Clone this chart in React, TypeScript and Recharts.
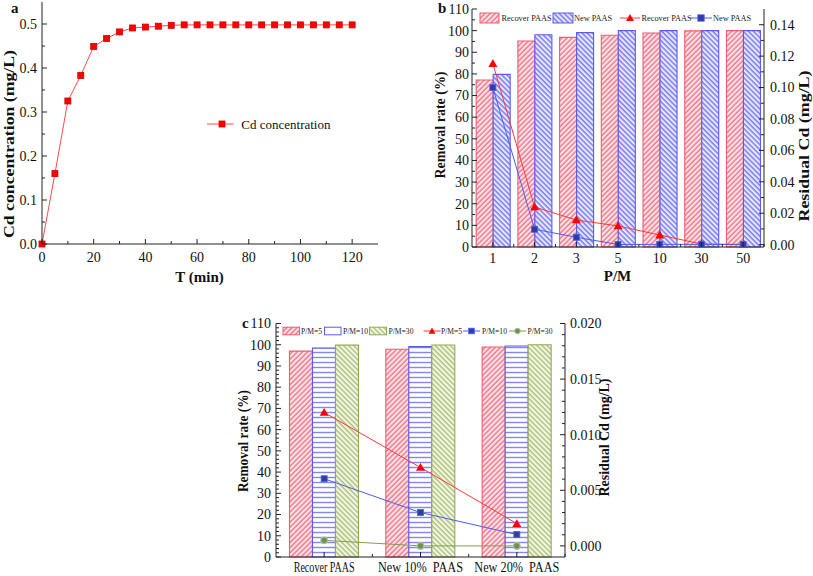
import React from "react";
import { ComposedChart, LineChart, Line, Bar, XAxis, YAxis, ReferenceArea, Legend } from "recharts";

const SERIF = "\"Liberation Serif\", \"Times New Roman\", \"DejaVu Serif\", serif";
const AXIS = "#222";
const TXT = { fontFamily: SERIF };

// (a) Cd concentration over time
const timeMin = [0, 5, 10, 15, 20, 25, 30, 35, 40, 45, 50, 55, 60, 65, 70, 75, 80, 85, 90, 95, 100, 105, 110, 115, 120];
const cdConc = [0, 0.16, 0.325, 0.383, 0.449, 0.467, 0.482, 0.491, 0.493, 0.495, 0.497, 0.498, 0.498, 0.498, 0.498, 0.498, 0.498, 0.498, 0.498, 0.498, 0.498, 0.498, 0.498, 0.498, 0.498];
const timeTicks = [0, 20, 40, 60, 80, 100, 120];
const concTicks = [0, 0.1, 0.2, 0.3, 0.4, 0.5];

// (b) removal rate / residual Cd vs P/M
const pmRatios = ["1", "2", "3", "5", "10", "30", "50"];
const recoverRate = [77.2, 95.2, 96.9, 97.9, 98.9, 99.9, 100];
const newRate = [79.8, 98.1, 99.1, 100, 100, 100, 100];
const recoverResidual = [0.1153, 0.024, 0.0157, 0.0119, 0.0061, 0.0004, 0.0];
const newResidual = [0.1, 0.0098, 0.0047, 0.0001, 0.0002, 0.0002, 0.0002];
const rateTicks = [0, 10, 20, 30, 40, 50, 60, 70, 80, 90, 100, 110];
const residualTicksB = [0, 0.02, 0.04, 0.06, 0.08, 0.1, 0.12, 0.14];

// (c) removal rate / residual Cd by PAAS source
const sources = ["Recover PAAS", "New 10%  PAAS", "New 20%  PAAS"];
const rate5 = [97.0, 97.9, 98.9];
const rate10 = [98.4, 99.1, 99.4];
const rate30 = [99.8, 99.9, 100];
const resid5 = [0.012, 0.00705, 0.002];
const resid10 = [0.00604, 0.003, 0.00102];
const resid30 = [0.0005, 0.0, 0.0];
const residualTicksC = [0, 0.005, 0.01, 0.015, 0.02];

const aRows = timeMin.map((t, i) => ({ t, c: cdConc[i] }));
const bRows = pmRatios.map((pm, i) => ({ pm, rec: recoverRate[i], neu: newRate[i], recRes: recoverResidual[i], newRes: newResidual[i] }));
const cRows = sources.map((s, i) => ({ s, r5: rate5[i], r10: rate10[i], r30: rate30[i], d5: resid5[i], d10: resid10[i], d30: resid30[i] }));

const withMinor = (major: number[], parts: number) => {
  const out: number[] = [];
  for (let i = 0; i < major.length - 1; i++)
    for (let k = 0; k < parts; k++) out.push(+(major[i] + ((major[i + 1] - major[i]) * k) / parts).toFixed(6));
  out.push(major[major.length - 1]);
  return out;
};
const isMajor = (v: number, majors: number[]) => majors.some((m) => Math.abs(m - v) < 1e-9);

// inward ticks, Origin style
const leftTick = (ax: number, majors: number[], fmt: (v: number) => string, gap: number, fs: number) => (p: any) => {
  const v = p.payload.value;
  const mj = isMajor(v, majors);
  return (
    <g>
      <line x1={ax} x2={ax + (mj ? 5 : 3)} y1={p.y} y2={p.y} stroke={AXIS} />
      {mj && <text x={ax - gap} y={p.y} dy="0.35em" textAnchor="end" fontSize={fs} fontFamily={SERIF} style={TXT} fill="#111">{fmt(v)}</text>}
    </g>
  );
};
const rightTick = (ax: number, majors: number[], fmt: (v: number) => string, gap: number, fs: number) => (p: any) => {
  const v = p.payload.value;
  const mj = isMajor(v, majors);
  return (
    <g>
      <line x1={ax} x2={ax - (mj ? 5 : 3)} y1={p.y} y2={p.y} stroke={AXIS} />
      {mj && <text x={ax + gap} y={p.y} dy="0.35em" textAnchor="start" fontSize={fs} fontFamily={SERIF} style={TXT} fill="#111">{fmt(v)}</text>}
    </g>
  );
};
const bottomTick = (ay: number, majors: number[], base: number, fs: number) => (p: any) => {
  const v = p.payload.value;
  const mj = isMajor(v, majors);
  return (
    <g>
      <line x1={p.x} x2={p.x} y1={ay} y2={ay - (mj ? 5 : 3)} stroke={AXIS} />
      {mj && <text x={p.x} y={base} textAnchor="middle" fontSize={fs} fontFamily={SERIF} style={TXT} fill="#111">{v}</text>}
    </g>
  );
};
const bandTick = (ay: number, half: number, base: number, fs: number, lens?: number[]) => (p: any) => (
  <g>
    <line x1={p.x} x2={p.x} y1={ay} y2={ay - 5} stroke={AXIS} />
    <line x1={p.x + half} x2={p.x + half} y1={ay} y2={ay - 3} stroke={AXIS} />
    <text x={p.x} y={base} textAnchor="middle" fontSize={fs} fontFamily={SERIF} fill="#111"
      textLength={lens ? lens[p.index] : undefined} lengthAdjust={lens ? "spacingAndGlyphs" : undefined}
      style={{ whiteSpace: "pre", fontFamily: SERIF }}>{p.payload.value}</text>
  </g>
);

const squareDot = (s: number, fill: string, stroke: string) => (p: any) =>
  p.cx == null ? <g key={p.index} /> : <rect key={p.index} x={p.cx - s / 2} y={p.cy - s / 2} width={s} height={s} fill={fill} stroke={stroke} strokeWidth={0.8} />;
const triDot = (s: number, fill: string) => (p: any) =>
  p.cx == null ? <g key={p.index} /> : <path key={p.index} d={`M${p.cx},${p.cy - s} L${p.cx + s},${p.cy + s * 0.75} L${p.cx - s},${p.cy + s * 0.75}Z`} fill={fill} />;
const circDot = (r: number, fill: string, stroke: string) => (p: any) =>
  p.cx == null ? <g key={p.index} /> : <circle key={p.index} cx={p.cx} cy={p.cy} r={r} fill={fill} stroke={stroke} strokeWidth={1.2} />;

const VTitle = ({ x, y, len, fs, children }: any) => (
  <text x={x} y={y} transform={`rotate(-90 ${x} ${y})`} textAnchor="middle" dominantBaseline="central" fontSize={fs}
    fontWeight="bold" fontFamily={SERIF} style={TXT} fill="#111" textLength={len} lengthAdjust="spacingAndGlyphs">{children}</text>
);
const HTitle = ({ x, y, fs, children }: any) => (
  <text x={x} y={y} textAnchor="middle" fontSize={fs} fontWeight="bold" fontFamily={SERIF} style={TXT} fill="#111">{children}</text>
);

const RED_EDGE = "#f25a6e";
const BLUE_EDGE = "#5a5af0";
const GREEN_EDGE = "#93aa55";

const legendBItems = [
  { kind: "bar", x: 0, w: 19, fill: "url(#hatchRed)", stroke: RED_EDGE, label: "Recover PAAS", tx: 21.5 },
  { kind: "bar", x: 73, w: 20, fill: "url(#hatchBlue)", stroke: BLUE_EDGE, label: "New PAAS", tx: 94 },
  { kind: "tri", x: 140, w: 20, fill: "#ff0000", stroke: "#ff3a3a", label: "Recover PAAS", tx: 161.5 },
  { kind: "sq", x: 210, w: 22, fill: "#2f3f9f", stroke: "#4a5df0", label: "New PAAS", tx: 233 },
];
const legendCItems = [
  { kind: "bar", x: 0, w: 16.5, fill: "url(#hatchRed)", stroke: RED_EDGE, label: "P/M=5", tx: 18 },
  { kind: "bar", x: 41.5, w: 16.5, fill: "#fff", stroke: BLUE_EDGE, label: "P/M=10", tx: 60 },
  { kind: "bar", x: 86.5, w: 17, fill: "url(#hatchGreen)", stroke: GREEN_EDGE, label: "P/M=30", tx: 105.5 },
  { kind: "tri", x: 140.5, w: 17, fill: "#ff0000", stroke: "#ff3a3a", label: "P/M=5", tx: 158 },
  { kind: "sq", x: 180, w: 17, fill: "#2f3f9f", stroke: "#4a5df0", label: "P/M=10", tx: 199 },
  { kind: "circ", x: 226, w: 17, fill: "#6e8f5b", stroke: "#7fa050", label: "P/M=30", tx: 244.5 },
];

const legendSvg = (items: any[], h: number, boxH: number, fs: number, ms: number) => () => (
  <svg width={300} height={h} style={{ overflow: "visible", display: "block" }}>
    {items.map((it, i) => {
      const cy = h / 2;
      const mx = it.x + it.w / 2;
      return (
        <g key={i}>
          {it.kind === "bar" && <rect x={it.x} y={cy - boxH / 2} width={it.w} height={boxH} fill={it.fill} stroke={it.stroke} strokeWidth={1} />}
          {it.kind !== "bar" && <line x1={it.x} x2={it.x + it.w} y1={cy} y2={cy} stroke={it.stroke} strokeWidth={1} />}
          {it.kind === "tri" && <path d={`M${mx},${cy - ms} L${mx + ms},${cy + ms * 0.75} L${mx - ms},${cy + ms * 0.75}Z`} fill={it.fill} />}
          {it.kind === "sq" && <rect x={mx - ms * 0.8} y={cy - ms * 0.8} width={ms * 1.6} height={ms * 1.6} fill={it.fill} stroke={it.stroke} strokeWidth={0.8} />}
          {it.kind === "circ" && <circle cx={mx} cy={cy} r={ms * 0.8} fill={it.fill} stroke="#a9c58a" strokeWidth={1} />}
          <text x={it.tx} y={cy} dy="0.35em" fontSize={fs} fontFamily={SERIF} style={TXT} fill="#222">{it.label}</text>
        </g>
      );
    })}
  </svg>
);

const legendA = () => (
  <svg width={140} height={14} style={{ overflow: "visible", display: "block" }}>
    <line x1={0} x2={26.6} y1={7} y2={7} stroke="#ff4a4a" strokeWidth={1} />
    <rect x={12} y={4} width={6} height={6} fill="#ff0000" stroke="#d00000" strokeWidth={0.8} />
    <text x={34.3} y={7} dy="0.35em" fontSize={13} fontFamily={SERIF} style={TXT} fill="#111">Cd concentration</text>
  </svg>
);

function Patterns() {
  return (
    <svg width={0} height={0} style={{ position: "absolute" }}>
      <defs>
        <pattern id="hatchRed" patternUnits="userSpaceOnUse" width={3.6} height={3.6} patternTransform="rotate(45)">
          <rect width={3.6} height={3.6} fill="#fde6ea" />
          <line x1={1} y1={0} x2={1} y2={3.6} stroke="#f4667c" strokeWidth={1.3} />
        </pattern>
        <pattern id="hatchBlue" patternUnits="userSpaceOnUse" width={3.6} height={3.6} patternTransform="rotate(-45)">
          <rect width={3.6} height={3.6} fill="#e8e8fd" />
          <line x1={1} y1={0} x2={1} y2={3.6} stroke="#6b6bf2" strokeWidth={1.3} />
        </pattern>
        <pattern id="hatchGreen" patternUnits="userSpaceOnUse" width={3.6} height={3.6} patternTransform="rotate(-45)">
          <rect width={3.6} height={3.6} fill="#f3f7e6" />
          <line x1={1} y1={0} x2={1} y2={3.6} stroke="#9db662" strokeWidth={1.2} />
        </pattern>
        <pattern id="linesBlue" patternUnits="userSpaceOnUse" width={4} height={5}>
          <rect width={4} height={5} fill="#fff" />
          <line x1={0} y1={2.5} x2={4} y2={2.5} stroke="#8585f3" strokeWidth={1.4} />
        </pattern>
      </defs>
    </svg>
  );
}

function PanelA() {
  return (
    <LineChart width={400} height={290} data={aRows} margin={{ top: 2, right: 22, left: 0, bottom: 0 }}>
      <XAxis type="number" dataKey="t" domain={[0, 130]} ticks={withMinor(timeTicks, 2)} height={46} interval={0}
        axisLine={{ stroke: AXIS }} tickLine={false} tickSize={0} tick={bottomTick(244, timeTicks, 261.5, 14)} />
      <YAxis type="number" domain={[0, 0.55]} ticks={withMinor(concTicks, 2)} width={42} interval={0}
        axisLine={{ stroke: AXIS }} tickLine={false} tickSize={0} tick={leftTick(42, concTicks, (v) => v.toFixed(1), 5, 14)} />
      <ReferenceArea fill="none" stroke={AXIS} strokeWidth={1} ifOverflow="visible" />
      <Legend layout="horizontal" verticalAlign="middle" align="center" wrapperStyle={{ top: 117, left: 207, width: 140 }} content={legendA} />
      <Line type="linear" dataKey="c" stroke="#ff4a4a" strokeWidth={1} dot={squareDot(6, "#ff0000", "#d00000")} isAnimationActive={false} />
      <VTitle x={9} y={144} len={188} fs={15}>Cd concentration (mg/L)</VTitle>
      <HTitle x={199.5} y={282} fs={15}>T (min)</HTitle>
      <text x={11} y={13} fontSize={15} fontWeight="bold" fontFamily={SERIF} style={TXT} fill="#111">a</text>
    </LineChart>
  );
}

function PanelB() {
  return (
    <ComposedChart width={413} height={290} data={bRows} margin={{ top: 9, right: 0, left: 0, bottom: 0 }} barCategoryGap="10%" barGap={0}>
      <XAxis dataKey="pm" height={43} interval={0} axisLine={{ stroke: AXIS }} tickLine={false} tickSize={0}
        tick={bandTick(247, 20.9, 262.5, 14)} />
      <YAxis yAxisId="left" domain={[0, 110]} ticks={withMinor(rateTicks, 2)} width={72} interval={0}
        axisLine={{ stroke: AXIS }} tickLine={false} tickSize={0} tick={leftTick(72, rateTicks, (v) => String(v), 3, 14)} />
      <YAxis yAxisId="right" orientation="right" domain={[-0.0015, 0.15]} ticks={withMinor(residualTicksB, 2)} width={49} interval={0}
        axisLine={{ stroke: AXIS }} tickLine={false} tickSize={0} tick={rightTick(364, residualTicksB, (v) => v.toFixed(2), 6, 14)} />
      <ReferenceArea yAxisId="left" fill="none" stroke={AXIS} strokeWidth={1} ifOverflow="visible" />
      <Legend layout="horizontal" verticalAlign="middle" align="center" wrapperStyle={{ top: 12, left: 80, width: 300 }}
        content={legendSvg(legendBItems, 12, 10, 8.3, 4)} />
      <Bar yAxisId="left" dataKey="rec" fill="url(#hatchRed)" stroke={RED_EDGE} strokeWidth={1.1} isAnimationActive={false} />
      <Bar yAxisId="left" dataKey="neu" fill="url(#hatchBlue)" stroke={BLUE_EDGE} strokeWidth={1.1} isAnimationActive={false} />
      <Line yAxisId="right" type="linear" dataKey="recRes" stroke="#ff3a3a" strokeWidth={1} dot={triDot(4.5, "#ff0000")} isAnimationActive={false} />
      <Line yAxisId="right" type="linear" dataKey="newRes" stroke="#4a5df0" strokeWidth={1} dot={squareDot(6, "#2f3f9f", "#4a5df0")} isAnimationActive={false} />
      <VTitle x={40} y={125} len={107} fs={15}>Removal rate (%)</VTitle>
      <VTitle x={404} y={146} len={151} fs={15}>Residual Cd (mg/L)</VTitle>
      <HTitle x={217.5} y={281} fs={15}>P/M</HTitle>
      <text x={38} y={13} fontSize={15} fontWeight="bold" fontFamily={SERIF} style={TXT} fill="#111">b</text>
    </ComposedChart>
  );
}

function PanelC() {
  return (
    <ComposedChart width={440} height={286} data={cRows} margin={{ top: 33.5, right: 0, left: 0, bottom: 0 }} barCategoryGap="14%" barGap={0}>
      <XAxis dataKey="s" height={19} interval={0} axisLine={{ stroke: AXIS }} tickLine={false} tickSize={0}
        tick={bandTick(267, 48.2, 282, 14, [61, 85, 85])} />
      <YAxis yAxisId="left" domain={[0, 110]} ticks={withMinor(rateTicks, 5)} width={76} interval={0}
        axisLine={{ stroke: AXIS }} tickLine={false} tickSize={0} tick={leftTick(76, rateTicks, (v) => String(v), 5, 14)} />
      <YAxis yAxisId="right" orientation="right" domain={[-0.001, 0.02]} ticks={withMinor(residualTicksC, 5)} width={75} interval={0}
        axisLine={{ stroke: AXIS }} tickLine={false} tickSize={0} tick={rightTick(365, residualTicksC, (v) => v.toFixed(3), 5, 14)} />
      <ReferenceArea yAxisId="left" fill="none" stroke={AXIS} strokeWidth={1} ifOverflow="visible" />
      <Legend layout="horizontal" verticalAlign="middle" align="center" wrapperStyle={{ top: 35, left: 82.5, width: 300 }}
        content={legendSvg(legendCItems, 12, 7.6, 7.6, 3.5)} />
      <Bar yAxisId="left" dataKey="r5" fill="url(#hatchRed)" stroke={RED_EDGE} strokeWidth={1.1} isAnimationActive={false} />
      <Bar yAxisId="left" dataKey="r10" fill="url(#linesBlue)" stroke={BLUE_EDGE} strokeWidth={1.1} isAnimationActive={false} />
      <Bar yAxisId="left" dataKey="r30" fill="url(#hatchGreen)" stroke={GREEN_EDGE} strokeWidth={1.1} isAnimationActive={false} />
      <Line yAxisId="right" type="linear" dataKey="d5" stroke="#ff3a3a" strokeWidth={1} dot={triDot(4.5, "#ff0000")} isAnimationActive={false} />
      <Line yAxisId="right" type="linear" dataKey="d10" stroke="#4a5df0" strokeWidth={1} dot={squareDot(6, "#2f3f9f", "#4a5df0")} isAnimationActive={false} />
      <Line yAxisId="right" type="linear" dataKey="d30" stroke="#7fa050" strokeWidth={1} dot={circDot(3.3, "#6e8f5b", "#a9c58a")} isAnimationActive={false} />
      <VTitle x={42.5} y={151} len={102} fs={15}>Removal rate (%)</VTitle>
      <VTitle x={404} y={147.5} len={118} fs={15}>Residual Cd (mg/L)</VTitle>
      <text x={42} y={37.5} fontSize={15} fontWeight="bold" fontFamily={SERIF} style={TXT} fill="#111">c</text>
    </ComposedChart>
  );
}

export default function App() {
  return (
    <div style={{ position: "absolute", left: 0, top: 0, width: 813, height: 576, background: "#fff", overflow: "hidden", fontFamily: SERIF }}>
      <Patterns />
      <div style={{ position: "absolute", left: 0, top: 0 }}><PanelA /></div>
      <div style={{ position: "absolute", left: 400, top: 0 }}><PanelB /></div>
      <div style={{ position: "absolute", left: 200, top: 290 }}><PanelC /></div>
    </div>
  );
}
